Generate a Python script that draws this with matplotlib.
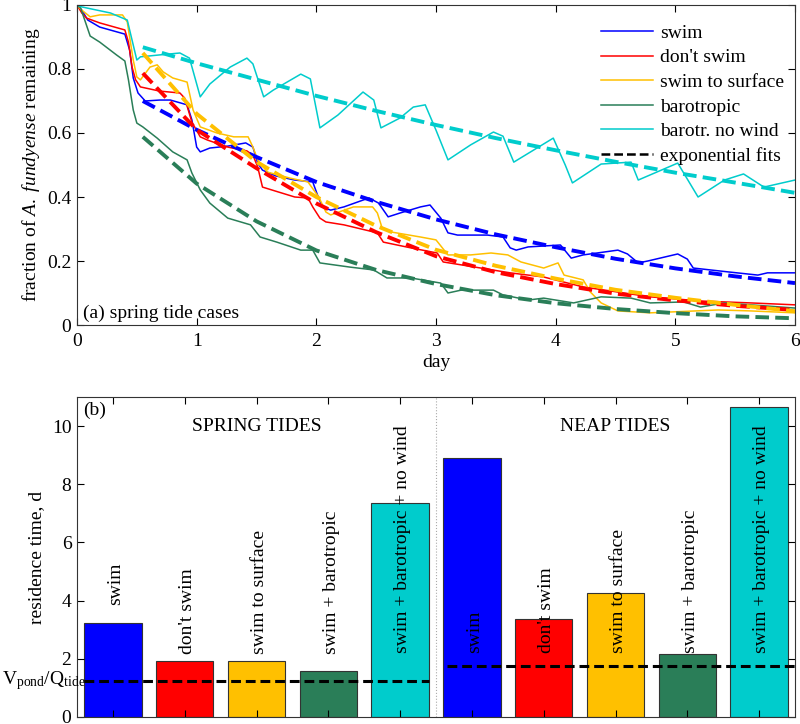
import numpy as np
import matplotlib
matplotlib.use('Agg')
import matplotlib.pyplot as plt
import matplotlib.transforms as mtransforms

plt.rcParams['font.family'] = ['Liberation Serif', 'DejaVu Serif']
plt.rcParams['font.size'] = 14
plt.rcParams['mathtext.fontset'] = 'custom'
plt.rcParams['mathtext.rm'] = 'Liberation Serif'
plt.rcParams['mathtext.it'] = 'Liberation Serif:italic'

# ---- (a) fraction remaining, spring tide cases ----
swim_t = [0, 0.04, 0.09, 0.19, 0.40, 0.44, 0.47, 0.51, 0.57, 0.69, 0.78, 0.92, 0.96, 1.00,
          1.03, 1.11, 1.26, 1.41, 1.47, 1.51, 1.55, 1.66, 1.82, 1.97, 2.01, 2.05, 2.12, 2.23,
          2.44, 2.52, 2.60, 2.70, 2.87, 2.95, 3.04, 3.10, 3.18, 3.43, 3.56, 3.62, 3.67, 3.77,
          4.04, 4.13, 4.23, 4.52, 4.60, 4.69, 4.77, 5.02, 5.10, 5.15, 5.44, 5.69, 5.77, 6.0]
swim_v = [1.0, 0.984, 0.953, 0.931, 0.909, 0.859, 0.772, 0.725, 0.70, 0.703, 0.703, 0.688,
          0.641, 0.556, 0.541, 0.553, 0.559, 0.569, 0.556, 0.506, 0.484, 0.466, 0.453, 0.447,
          0.406, 0.369, 0.359, 0.369, 0.397, 0.381, 0.338, 0.35, 0.369, 0.375, 0.334, 0.288,
          0.281, 0.281, 0.275, 0.241, 0.234, 0.244, 0.25, 0.209, 0.219, 0.234, 0.222, 0.194,
          0.20, 0.222, 0.206, 0.178, 0.166, 0.156, 0.163, 0.163]

noswim_t = [0, 0.04, 0.08, 0.19, 0.40, 0.43, 0.46, 0.49, 0.53, 0.69, 0.86, 0.90, 0.96, 1.03,
            1.09, 1.26, 1.42, 1.47, 1.51, 1.55, 1.68, 1.82, 1.93, 1.97, 2.03, 2.08, 2.23, 2.51,
            2.56, 2.79, 3.01, 3.06, 3.21, 3.62, 3.90, 4.23, 4.79, 5.21, 5.63, 6.0]
noswim_v = [1.0, 0.975, 0.959, 0.944, 0.922, 0.884, 0.806, 0.766, 0.744, 0.731, 0.725, 0.709,
            0.634, 0.588, 0.578, 0.556, 0.544, 0.531, 0.494, 0.431, 0.416, 0.40, 0.397, 0.369,
            0.334, 0.322, 0.313, 0.288, 0.259, 0.241, 0.225, 0.197, 0.188, 0.163, 0.15, 0.119,
            0.088, 0.075, 0.069, 0.063]

surf_t = [0, 0.04, 0.11, 0.19, 0.38, 0.42, 0.47, 0.50, 0.53, 0.61, 0.67, 0.72, 0.80, 0.92,
          0.97, 1.03, 1.17, 1.31, 1.43, 1.47, 1.51, 1.59, 1.78, 1.93, 2.02, 2.08, 2.12, 2.31,
          2.43, 2.47, 2.51, 2.55, 2.62, 2.87, 3.00, 3.10, 3.29, 3.46, 3.60, 3.71, 3.90, 4.02,
          4.07, 4.23, 4.29, 4.38, 4.52, 4.79, 5.36, 5.63, 6.0]
surf_v = [1.0, 0.984, 0.963, 0.969, 0.969, 0.947, 0.828, 0.775, 0.766, 0.806, 0.813, 0.791,
          0.772, 0.759, 0.672, 0.619, 0.60, 0.588, 0.588, 0.556, 0.516, 0.478, 0.459, 0.447,
          0.40, 0.353, 0.344, 0.369, 0.369, 0.369, 0.35, 0.303, 0.291, 0.275, 0.266, 0.219,
          0.219, 0.225, 0.219, 0.197, 0.178, 0.194, 0.156, 0.141, 0.103, 0.069, 0.044, 0.038,
          0.047, 0.044, 0.038]

baro_t = [0, 0.03, 0.07, 0.11, 0.19, 0.33, 0.40, 0.43, 0.47, 0.50, 0.55, 0.67, 0.80, 0.92,
          0.96, 1.03, 1.11, 1.26, 1.45, 1.53, 1.67, 1.87, 1.97, 2.03, 2.28, 2.48, 2.59, 2.79,
          3.04, 3.10, 3.21, 3.48, 3.56, 3.77, 3.90, 4.15, 4.38, 4.63, 4.79, 5.07, 5.21, 5.41,
          5.63, 6.0]
baro_v = [1.0, 0.991, 0.947, 0.903, 0.884, 0.844, 0.825, 0.766, 0.672, 0.631, 0.619, 0.584,
          0.541, 0.516, 0.475, 0.422, 0.381, 0.334, 0.313, 0.275, 0.259, 0.234, 0.234, 0.194,
          0.181, 0.172, 0.147, 0.147, 0.131, 0.10, 0.109, 0.109, 0.094, 0.078, 0.084, 0.069,
          0.088, 0.084, 0.069, 0.072, 0.056, 0.069, 0.063, 0.053]

nowind_t = [0, 0.04, 0.28, 0.42, 0.50, 0.53, 0.69, 0.86, 0.94, 1.03, 1.11, 1.28, 1.42, 1.47,
            1.56, 1.64, 1.87, 1.95, 2.03, 2.18, 2.39, 2.48, 2.54, 2.70, 2.81, 2.91, 3.00, 3.10,
            3.29, 3.48, 3.56, 3.65, 3.98, 4.08, 4.14, 4.38, 4.63, 4.69, 5.02, 5.19, 5.41, 5.57,
            5.74, 6.0]
nowind_v = [1.0, 0.994, 0.975, 0.953, 0.828, 0.838, 0.844, 0.85, 0.834, 0.713, 0.753, 0.806,
            0.834, 0.816, 0.713, 0.734, 0.784, 0.769, 0.616, 0.656, 0.728, 0.703, 0.616, 0.647,
            0.681, 0.688, 0.609, 0.516, 0.563, 0.603, 0.59, 0.509, 0.584, 0.50, 0.444, 0.503,
            0.509, 0.453, 0.506, 0.40, 0.453, 0.472, 0.431, 0.453]

# exponential fits
fit_t = [0.55, 1.0, 1.5, 2.0, 2.5, 3.0, 3.5, 4.0, 4.5, 5.0, 5.5, 6.0]
fit_swim = [0.70, 0.61, 0.525, 0.447, 0.385, 0.33, 0.283, 0.243, 0.207, 0.177, 0.152, 0.131]
fit_noswim = [0.787, 0.61, 0.49, 0.38, 0.29, 0.215, 0.165, 0.128, 0.098, 0.077, 0.06, 0.047]
fit_surf = [0.85, 0.66, 0.51, 0.40, 0.31, 0.235, 0.185, 0.145, 0.11, 0.085, 0.063, 0.043]
fit_baro = [0.588, 0.442, 0.324, 0.233, 0.172, 0.128, 0.093, 0.068, 0.05, 0.037, 0.027, 0.021]
fit_nowind = [0.868, 0.818, 0.767, 0.716, 0.669, 0.625, 0.584, 0.546, 0.51, 0.476, 0.445, 0.413]

# ---- (b) residence times ----
cases = ['swim', "don't swim", 'swim to surface', 'swim + barotropic',
         'swim + barotropic + no wind']
spring_res = [3.22, 1.91, 1.91, 1.59, 7.37]
neap_res = [8.89, 3.38, 4.26, 2.18, 10.64]
vq_spring = 1.25
vq_neap = 1.76

colors = ['#0000ff', '#ff0000', '#ffc000', '#2a7e58', '#00cccc']
label_y_spring = [3.85, 2.15, 2.15, 2.15, 2.2]
label_y_neap = [2.2, 2.2, 2.2, 2.2, 2.2]

fig = plt.figure(figsize=(8, 7.24), dpi=100)
ax1 = fig.add_axes([0.09625, 0.5511, 0.8975, 0.442])
ax2 = fig.add_axes([0.09625, 0.00967, 0.8975, 0.442])

for ax in (ax1, ax2):
    ax.tick_params(direction='in', top=True, right=True, length=5, width=0.8)
    for s in ax.spines.values():
        s.set_linewidth(0.8)
        s.set_color('#333333')

series = [(swim_t, swim_v, 'swim'), (noswim_t, noswim_v, "don't swim"),
          (surf_t, surf_v, 'swim to surface'), (baro_t, baro_v, 'barotropic'),
          (nowind_t, nowind_v, 'barotr. no wind')]
for (t, v, lab), c in zip(series, colors):
    ax1.plot(t, v, color=c, lw=1.1, label=lab)
fits = [fit_swim, fit_noswim, fit_surf, fit_baro, fit_nowind]
for f, c in zip(fits, colors):
    ax1.plot(fit_t, f, color=c, lw=2.8, dashes=(3.5, 1.6))
ax1.plot([], [], color='k', lw=1.8, dashes=(3.5, 1.6), label='exponential fits')

ax1.set_xlim(0, 6)
ax1.set_ylim(0, 1)
ax1.set_xticks(range(7))
ax1.set_yticks([0, 0.2, 0.4, 0.6, 0.8, 1])
ax1.set_yticklabels(['0', '0.2', '0.4', '0.6', '0.8', '1'])
ax1.tick_params(axis='x', pad=6)
ax1.tick_params(axis='y', pad=4)
ax1.set_xlabel('day')
ax1.xaxis.set_label_coords(0.5, -0.09)
ax1.set_ylabel(r'fraction of $\mathit{A.\ fundyense}$ remaining')
ax1.yaxis.set_label_coords(-0.049, 0.5)
ax1.text(0.008, 0.008, '(a) spring tide cases', transform=ax1.transAxes,
         ha='left', va='bottom')
ax1.legend(loc='upper right', bbox_to_anchor=(0.985, 0.94), frameon=False,
           handlelength=2.7, handletextpad=0.35, labelspacing=0.36,
           borderaxespad=0, borderpad=0)

# bar panel
x_spring = np.arange(1, 6)
x_neap = np.arange(6, 11)
ax2.bar(x_spring, spring_res, 0.8, color=colors, edgecolor='#333333', linewidth=0.8)
ax2.bar(x_neap, neap_res, 0.8, color=colors, edgecolor='#333333', linewidth=0.8)
for x, y, lab in zip(x_spring, label_y_spring, cases):
    ax2.text(x + 0.04, y, lab, rotation=90, ha='center', va='bottom')
for x, y, lab in zip(x_neap, label_y_neap, cases):
    ax2.text(x + 0.04, y, lab, rotation=90, ha='center', va='bottom')
ax2.plot([0.6, 5.4], [vq_spring, vq_spring], color='k', lw=2.2, dashes=(3.2, 1.6))
ax2.plot([5.65, 10.5], [vq_neap, vq_neap], color='k', lw=2.2, dashes=(3.2, 1.6))
ax2.axvline(5.5, color='#aaaaaa', lw=0.8, ls=':')
ax2.text(3, 10, 'SPRING TIDES', ha='center', va='center')
ax2.text(8, 10, 'NEAP TIDES', ha='center', va='center')
ax2.text(0.008, 0.985, '(b)', transform=ax2.transAxes, ha='left', va='top')
trans = mtransforms.blended_transform_factory(ax2.transAxes, ax2.transData)
ax2.text(-0.105, vq_spring, r'V$_{\rm pond}$/Q$_{\rm tide}$', transform=trans,
         ha='left', va='center', fontsize=14)

ax2.set_xlim(0.5, 10.5)
ax2.set_ylim(0, 11)
ax2.set_xticks(range(1, 11))
ax2.set_xticklabels([])
ax2.set_yticks([0, 2, 4, 6, 8, 10])
ax2.tick_params(axis='y', pad=4)
ax2.set_ylabel('residence time, d')
ax2.yaxis.set_label_coords(-0.045, 0.5)

fig.savefig('out.png', dpi=100)
